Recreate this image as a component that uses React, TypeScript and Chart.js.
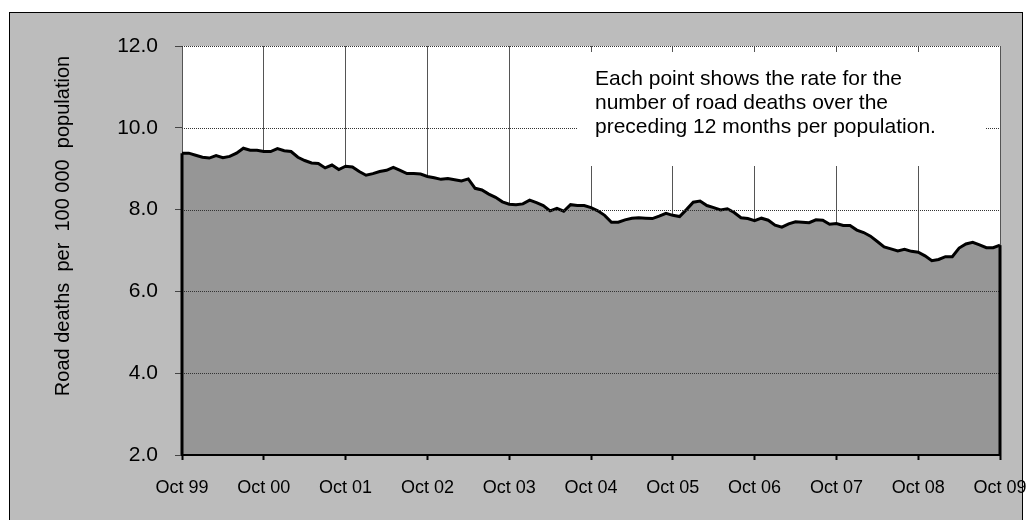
import React, { useEffect, useRef } from "react";
import { Chart, registerables } from "chart.js";

Chart.register(...registerables);

const xTickLabels = [
  "Oct 99", "Oct 00", "Oct 01", "Oct 02", "Oct 03", "Oct 04",
  "Oct 05", "Oct 06", "Oct 07", "Oct 08", "Oct 09",
];

// Monthly rolling 12-month road death rate, Oct 99 .. Oct 09
const rates = [
  9.38, 9.38, 9.33, 9.28, 9.26, 9.32, 9.27, 9.30, 9.38, 9.50, 9.45, 9.45,
  9.42, 9.42, 9.49, 9.44, 9.42, 9.28, 9.20, 9.14, 9.13, 9.02, 9.09, 8.98,
  9.06, 9.04, 8.93, 8.84, 8.88, 8.93, 8.96, 9.03, 8.96, 8.88, 8.88, 8.87,
  8.81, 8.78, 8.74, 8.76, 8.73, 8.70, 8.75, 8.52, 8.48, 8.38, 8.30, 8.19,
  8.13, 8.12, 8.14, 8.23, 8.17, 8.10, 7.97, 8.03, 7.96, 8.12, 8.10, 8.10,
  8.05, 7.97, 7.86, 7.69, 7.69, 7.75, 7.79, 7.80, 7.79, 7.78, 7.84, 7.91,
  7.86, 7.83, 8.00, 8.18, 8.21, 8.10, 8.05, 7.99, 8.02, 7.93, 7.80, 7.78,
  7.73, 7.79, 7.74, 7.62, 7.57, 7.65, 7.70, 7.69, 7.68, 7.75, 7.74, 7.64,
  7.66, 7.61, 7.61, 7.50, 7.44, 7.35, 7.22, 7.09, 7.04, 6.99, 7.03, 6.98,
  6.96, 6.87, 6.75, 6.78, 6.85, 6.85, 7.06, 7.16, 7.20, 7.14, 7.07, 7.07,
  7.13,
];

const yTitle = "Road deaths  per  100 000  population";
const noteLines = [
  "Each point shows the rate for the",
  "number of road deaths over the",
  "preceding 12 months per population.",
];

const FONT = '"Liberation Sans", Arial, sans-serif';

const customPlugin = {
  id: "custom",
  beforeDraw(chart: any) {
    const ctx = chart.ctx;
    const { left, top, right, bottom } = chart.chartArea;
    ctx.save();
    ctx.fillStyle = "#bcbcbc";
    ctx.fillRect(9, 12, 1014, 515);
    ctx.strokeStyle = "#000";
    ctx.lineWidth = 1;
    ctx.strokeRect(9.5, 12.5, 1013, 514);
    ctx.fillStyle = "#fff";
    ctx.fillRect(left, top, right - left, bottom - top);
    ctx.translate(63, 226);
    ctx.rotate(-Math.PI / 2);
    ctx.font = `20px ${FONT}`;
    ctx.textAlign = "center";
    ctx.textBaseline = "middle";
    ctx.fillStyle = "#000";
    ctx.fillText(yTitle, 0, 0);
    ctx.restore();
  },
  afterDatasetsDraw(chart: any) {
    const ctx = chart.ctx;
    const xs = chart.scales.x;
    const ys = chart.scales.y;
    const { left, right, bottom } = chart.chartArea;
    ctx.save();
    // dotted horizontal gridlines on top of the area
    ctx.strokeStyle = "#333";
    ctx.lineWidth = 1;
    ctx.setLineDash([1, 1]);
    ys.ticks.forEach((t: any) => {
      if (t.value <= ys.min) return;
      const py = Math.round(ys.getPixelForValue(t.value)) + 0.5;
      ctx.beginPath();
      ctx.moveTo(left, py);
      ctx.lineTo(right, py);
      ctx.stroke();
    });
    ctx.setLineDash([]);
    // area outline vertical edges
    ctx.strokeStyle = "#000";
    ctx.lineWidth = 3;
    const n = rates.length - 1;
    [0, n].forEach((i) => {
      const px = xs.getPixelForValue(i);
      ctx.beginPath();
      ctx.moveTo(px, ys.getPixelForValue(rates[i]));
      ctx.lineTo(px, bottom);
      ctx.stroke();
    });
    // bottom axis line
    ctx.lineWidth = 2;
    ctx.beginPath();
    ctx.moveTo(left - 1, bottom);
    ctx.lineTo(right + 1, bottom);
    ctx.stroke();
    // annotation box
    ctx.fillStyle = "#fff";
    ctx.fillRect(578, 52, 408, 114);
    ctx.fillStyle = "#000";
    ctx.font = `21px ${FONT}`;
    ctx.textAlign = "left";
    ctx.textBaseline = "alphabetic";
    noteLines.forEach((s, i) => ctx.fillText(s, 595, 85 + i * 24));
    ctx.restore();
  },
};

export default function App() {
  const ref = useRef<HTMLCanvasElement>(null);
  useEffect(() => {
    document.body.style.margin = "0";
    const chart = new Chart(ref.current!, {
      type: "line",
      data: {
        datasets: [
          {
            data: rates.map((v, i) => ({ x: i, y: v })),
            borderColor: "#000",
            borderWidth: 3,
            backgroundColor: "#969696",
            fill: "start",
            pointRadius: 0,
            tension: 0,
          },
        ],
      },
      options: {
        animation: false,
        responsive: false,
        events: [],
        layout: { padding: { left: 0, top: 46, right: 32, bottom: 0 } },
        plugins: { legend: { display: false }, tooltip: { enabled: false } },
        scales: {
          x: {
            type: "linear",
            min: 0,
            max: 120,
            afterFit: (s: any) => {
              s.height = 65;
              s.paddingLeft = 0;
              s.paddingRight = 0;
            },
            afterBuildTicks: (s: any) => {
              s.ticks = xTickLabels.map((_, i) => ({ value: i * 12 }));
            },
            ticks: {
              autoSkip: false,
              maxRotation: 0,
              padding: 17,
              color: "#000",
              font: { family: FONT, size: 18 },
              callback: (v: any) => xTickLabels[Math.round(Number(v) / 12)] ?? "",
            },
            grid: {
              color: "#555",
              lineWidth: 1,
              drawTicks: true,
              tickLength: 5,
              tickColor: "#000",
              tickWidth: 2,
            },
            border: { display: false },
          },
          y: {
            min: 2,
            max: 12,
            afterFit: (s: any) => {
              s.width = 182;
              s.paddingTop = 0;
              s.paddingBottom = 0;
            },
            ticks: {
              stepSize: 2,
              padding: 17,
              color: "#000",
              font: { family: FONT, size: 21 },
              callback: (v: any) => Number(v).toFixed(1),
            },
            grid: {
              drawOnChartArea: false,
              drawTicks: true,
              tickLength: 7,
              tickColor: "#444",
            },
            border: { display: true, color: "#555", width: 1 },
          },
        },
      },
      plugins: [customPlugin],
    });
    return () => chart.destroy();
  }, []);
  return <canvas ref={ref} width={1032} height={520} style={{ display: "block" }} />;
}
